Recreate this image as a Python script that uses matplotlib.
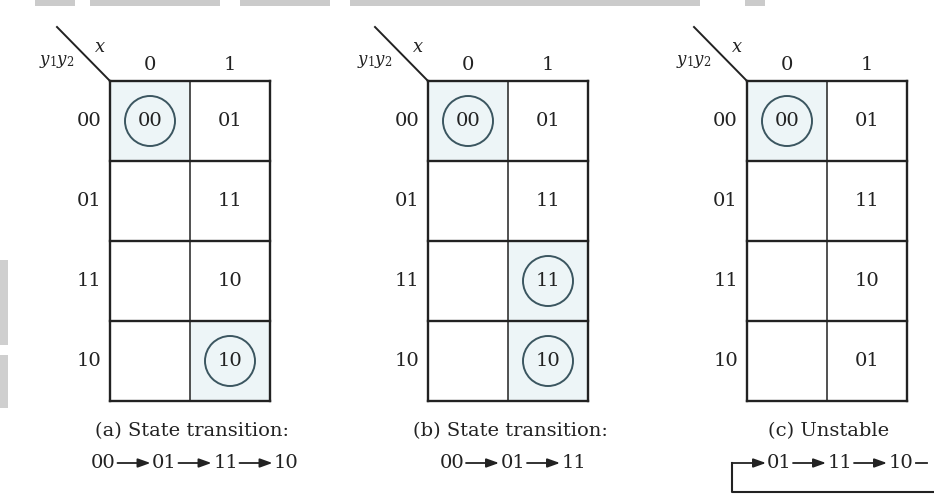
import matplotlib
matplotlib.use("Agg")
import matplotlib.pyplot as plt
from matplotlib.patches import Rectangle, Circle

plt.rcParams['font.family'] = ['DejaVu Serif']
plt.rcParams['mathtext.fontset'] = 'dejavuserif'

# map contents: rows are present state y1y2, columns are input x
row_states = ["00", "01", "11", "10"]
col_inputs = ["0", "1"]

next_a = [["00", "01"], ["", "11"], ["", "10"], ["", "10"]]
next_b = [["00", "01"], ["", "11"], ["", "11"], ["", "10"]]
next_c = [["00", "01"], ["", "11"], ["", "10"], ["", "01"]]

captions = ["(a) State transition:", "(b) State transition:", "(c) Unstable"]
chain_a = ["00", "01", "11", "10"]
chain_b = ["00", "01", "11"]
chain_c = ["01", "11", "10"]

# layout (pixels)
W, H = 934, 495
lefts = [110, 428, 747]
top = 81
cw, ch = 80, 80
ink = "#222222"
circ_col = "#3b5660"
fill_col = "#edf5f7"
fs = 14
tw, al, gap = 24, 33, 2


def draw_map(ax, x0, table):
    nr, nc = len(table), len(table[0])
    for r, row in enumerate(table):
        for c, val in enumerate(row):
            cx = x0 + (c + 0.5) * cw
            cy = top + (r + 0.5) * ch
            if val == row_states[r]:
                # stable state -> shaded + circled
                ax.add_patch(Rectangle((x0 + c * cw, top + r * ch), cw, ch,
                                       fc=fill_col, ec="none", zorder=1))
                ax.add_patch(Circle((cx, cy), 25, fill=False, ec=circ_col,
                                    lw=1.4, zorder=3))
            if val:
                ax.text(cx, cy, val, ha="center", va="center", fontsize=fs,
                        color=ink, zorder=4)
    for r in range(nr + 1):
        ax.plot([x0, x0 + nc * cw], [top + r * ch] * 2, color=ink, lw=1.7,
                solid_capstyle="projecting", zorder=2)
    for c in range(nc + 1):
        ax.plot([x0 + c * cw] * 2, [top, top + nr * ch], color=ink,
                lw=1.7 if c in (0, nc) else 1.1, zorder=2)
    # corner label
    ax.plot([x0 - 53, x0], [top - 54, top], color=ink, lw=1.4)
    ax.text(x0 - 10, top - 34, "$x$", ha="center", va="center", fontsize=13,
            color=ink)
    ax.text(x0 - 53, top - 19, "$y_1y_2$", ha="center", va="center",
            fontsize=12, color=ink)
    for c, lab in enumerate(col_inputs):
        ax.text(x0 + (c + 0.5) * cw, top - 16, lab, ha="center", va="center",
                fontsize=fs, color=ink)
    for r, lab in enumerate(row_states):
        ax.text(x0 - 9, top + (r + 0.5) * ch, lab, ha="right", va="center",
                fontsize=fs, color=ink)


def arrow(ax, x1, x2, y):
    ax.annotate("", xy=(x2, y), xytext=(x1, y),
                arrowprops=dict(arrowstyle="-|>,head_length=0.75,head_width=0.27",
                                mutation_scale=10, lw=1.3, color=ink,
                                shrinkA=0, shrinkB=0))


def draw_chain(ax, x, y, tokens):
    for i, t in enumerate(tokens):
        ax.text(x + tw / 2, y, t, ha="center", va="center", fontsize=fs,
                color=ink)
        x += tw
        if i < len(tokens) - 1:
            arrow(ax, x + gap, x + gap + al, y)
            x += al + 2 * gap
    return x


fig = plt.figure(figsize=(W / 100, H / 100), dpi=100)
ax = fig.add_axes([0, 0, 1, 1])
ax.set_xlim(0, W)
ax.set_ylim(H, 0)
ax.axis("off")

# scan smudges along the top and left edge
for a, b in [(35, 75), (90, 220), (240, 330), (350, 700), (745, 765)]:
    ax.add_patch(Rectangle((a, 0), b - a, 6, fc="#cbcbcb", ec="none"))
for a, b in [(260, 345), (355, 408)]:
    ax.add_patch(Rectangle((0, a), 8, b - a, fc="#cfcfcf", ec="none"))

for x0, table in zip(lefts, [next_a, next_b, next_c]):
    draw_map(ax, x0, table)

cap_y, chain_y = 431, 463
for x0, cap in zip(lefts, captions):
    ax.text(x0 + cw + 2, cap_y, cap, ha="center", va="center", fontsize=fs,
            color=ink)

for x0, chain in zip(lefts[:2], [chain_a, chain_b]):
    n = len(chain)
    width = n * tw + (n - 1) * (al + 2 * gap)
    draw_chain(ax, x0 + cw + 5 - width / 2, chain_y, chain)

# (c) loops back on itself
loop_x = lefts[2] - 15
arrow(ax, loop_x, loop_x + al + 1, chain_y)
end = draw_chain(ax, loop_x + al + 2, chain_y, chain_c)
ax.plot([end + 3, end + 14], [chain_y] * 2, color=ink, lw=1.3)
ax.plot([loop_x, loop_x, W], [chain_y, 492, 492], color=ink, lw=1.5)

fig.savefig("out.png", dpi=100)
